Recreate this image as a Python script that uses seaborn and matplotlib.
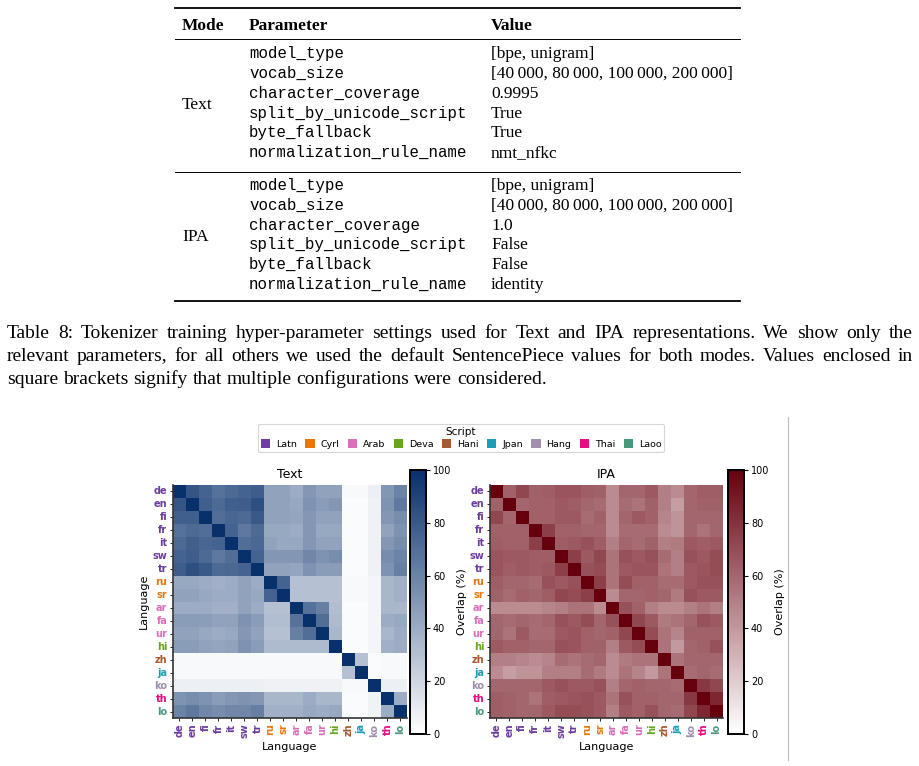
import numpy as np
import pandas as pd
import matplotlib
matplotlib.use("Agg")
import matplotlib.pyplot as plt
import seaborn as sns
from matplotlib.colors import LinearSegmentedColormap
from matplotlib.patches import Patch
from matplotlib.lines import Line2D

# ---------------- data ----------------
table_params = ["model_type", "vocab_size", "character_coverage",
                "split_by_unicode_script", "byte_fallback", "normalization_rule_name"]
text_values = ["[bpe, unigram]", "[40\u2009000, 80\u2009000, 100\u2009000, 200\u2009000]",
               "0.9995", "True", "True", "nmt_nfkc"]
ipa_values = ["[bpe, unigram]", "[40\u2009000, 80\u2009000, 100\u2009000, 200\u2009000]",
              "1.0", "False", "False", "identity"]
caption_lines = [
    "Table 8:  Tokenizer training hyper-parameter settings used for Text and IPA representations.  We show only the",
    "relevant parameters, for all others we used the default SentencePiece values for both modes.  Values enclosed in",
    "square brackets signify that multiple configurations were considered.",
]

languages = ["de", "en", "fi", "fr", "it", "sw", "tr", "ru", "sr", "ar",
             "fa", "ur", "hi", "zh", "ja", "ko", "th", "lo"]
lang_script = ["Latn", "Latn", "Latn", "Latn", "Latn", "Latn", "Latn", "Cyrl", "Cyrl",
               "Arab", "Arab", "Arab", "Deva", "Hani", "Jpan", "Hang", "Thai", "Laoo"]
scripts = ["Latn", "Cyrl", "Arab", "Deva", "Hani", "Jpan", "Hang", "Thai", "Laoo"]
script_colors = ["#6c3d9e", "#e8770e", "#d670b8", "#66a61e", "#a8582a",
                 "#1b9eb3", "#9e8fae", "#ea0a82", "#47997c"]

text_overlap = [
    [100, 82, 75, 68, 72, 75, 78, 45, 45, 40, 50, 45, 45, 3, 3, 8, 50, 60],
    [82, 100, 77, 72, 77, 78, 85, 45, 45, 42, 52, 48, 50, 2, 2, 7, 52, 65],
    [77, 77, 100, 70, 74, 72, 80, 45, 45, 43, 50, 45, 45, 2, 2, 7, 50, 55],
    [68, 72, 70, 100, 75, 65, 72, 42, 42, 40, 50, 42, 42, 2, 2, 7, 45, 52],
    [72, 77, 74, 75, 100, 70, 73, 45, 42, 42, 50, 45, 45, 2, 2, 7, 50, 55],
    [75, 78, 72, 65, 70, 100, 75, 50, 50, 50, 58, 52, 55, 2, 2, 7, 55, 60],
    [78, 85, 80, 72, 73, 75, 100, 45, 45, 43, 52, 48, 48, 2, 2, 7, 52, 62],
    [42, 42, 40, 38, 40, 45, 40, 100, 75, 30, 30, 30, 30, 3, 3, 5, 35, 38],
    [45, 45, 42, 40, 40, 45, 42, 75, 100, 30, 30, 30, 30, 3, 3, 5, 35, 38],
    [40, 40, 40, 38, 38, 45, 40, 30, 30, 100, 68, 62, 32, 2, 2, 5, 35, 35],
    [48, 48, 47, 45, 45, 52, 48, 32, 32, 68, 100, 70, 33, 2, 2, 5, 40, 42],
    [45, 45, 42, 40, 42, 50, 45, 30, 30, 62, 70, 100, 35, 2, 2, 5, 35, 40],
    [48, 48, 45, 43, 45, 52, 48, 33, 33, 33, 33, 33, 100, 2, 2, 5, 38, 40],
    [3, 3, 3, 3, 3, 3, 3, 3, 3, 3, 3, 3, 3, 100, 30, 2, 3, 3],
    [3, 3, 3, 3, 3, 3, 3, 3, 3, 3, 3, 3, 3, 30, 100, 2, 3, 3],
    [8, 8, 8, 8, 8, 8, 8, 7, 7, 7, 7, 7, 7, 3, 3, 100, 8, 8],
    [52, 55, 52, 48, 50, 52, 50, 35, 35, 35, 40, 35, 35, 2, 2, 6, 100, 40],
    [60, 65, 58, 55, 58, 58, 62, 38, 38, 38, 42, 40, 42, 2, 2, 6, 40, 100],
]

ipa_overlap = [
    [100, 62, 72, 62, 63, 67, 67, 63, 62, 45, 60, 60, 65, 50, 45, 60, 63, 63],
    [62, 100, 60, 62, 62, 65, 63, 60, 58, 45, 58, 55, 62, 50, 38, 60, 62, 62],
    [72, 60, 100, 62, 62, 65, 65, 58, 62, 45, 60, 65, 62, 48, 42, 60, 60, 60],
    [62, 62, 62, 100, 75, 62, 62, 60, 60, 45, 58, 58, 58, 45, 42, 60, 55, 60],
    [63, 62, 62, 75, 100, 63, 65, 68, 63, 50, 60, 58, 62, 50, 52, 65, 63, 65],
    [67, 65, 65, 63, 63, 100, 75, 65, 72, 55, 68, 65, 68, 58, 50, 68, 65, 70],
    [67, 63, 65, 63, 65, 75, 100, 68, 70, 55, 65, 67, 67, 55, 50, 65, 67, 70],
    [63, 60, 60, 58, 68, 65, 68, 100, 75, 55, 70, 62, 62, 58, 58, 65, 68, 68],
    [62, 58, 62, 60, 63, 72, 70, 75, 100, 45, 60, 60, 62, 60, 52, 68, 65, 65],
    [45, 45, 45, 45, 48, 50, 55, 55, 45, 100, 68, 62, 50, 45, 45, 50, 55, 50],
    [60, 58, 60, 58, 60, 68, 65, 70, 60, 68, 100, 72, 65, 52, 55, 60, 68, 65],
    [60, 55, 65, 58, 58, 65, 67, 62, 60, 62, 72, 100, 70, 55, 48, 62, 62, 62],
    [65, 62, 62, 60, 60, 68, 67, 62, 62, 50, 65, 70, 100, 55, 40, 60, 62, 68],
    [50, 50, 48, 45, 48, 58, 55, 58, 60, 45, 52, 55, 55, 100, 55, 60, 60, 60],
    [45, 38, 42, 42, 50, 50, 50, 58, 52, 45, 55, 48, 40, 55, 100, 58, 60, 58],
    [60, 60, 60, 60, 65, 68, 65, 65, 68, 50, 60, 62, 60, 60, 58, 100, 78, 72],
    [63, 62, 60, 55, 63, 65, 67, 68, 65, 55, 68, 62, 62, 60, 60, 78, 100, 85],
    [63, 62, 60, 60, 65, 70, 70, 68, 65, 50, 65, 62, 68, 60, 58, 72, 85, 100],
]

# ---------------- figure ----------------
W, H = 920, 766
fig = plt.figure(figsize=(W / 100, H / 100), dpi=100)


def fx(x):
    return x / W


def fy(y):
    return 1 - y / H


SERIF = ["Liberation Serif", "DejaVu Serif"]
MONO = ["Liberation Mono", "DejaVu Sans Mono"]

# ---- table ----
def hrule(y, lw):
    fig.add_artist(Line2D([fx(175), fx(740)], [fy(y), fy(y)], lw=lw, color="black"))


hrule(7.5, 1.3)
hrule(38.5, 0.7)
hrule(171.5, 0.7)
hrule(301.5, 1.3)

hdr_y = 30
fig.text(fx(182), fy(hdr_y), "Mode", family=SERIF, weight="bold", fontsize=12.5, va="baseline")
fig.text(fx(249), fy(hdr_y), "Parameter", family=SERIF, weight="bold", fontsize=12.5, va="baseline")
fig.text(fx(491), fy(hdr_y), "Value", family=SERIF, weight="bold", fontsize=12.5, va="baseline")

text_rows_y = [58, 78, 98, 118, 137, 157]
ipa_rows_y = [190, 210, 230, 249, 269, 289]
fig.text(fx(182), fy(109), "Text", family=SERIF, fontsize=12.5, va="baseline")
fig.text(fx(182), fy(241), "IPA", family=SERIF, fontsize=12.5, va="baseline")
for yy, p, v in zip(text_rows_y, table_params, text_values):
    fig.text(fx(249), fy(yy), p, family=MONO, fontsize=11.3, va="baseline")
    fig.text(fx(491), fy(yy), v, family=SERIF, fontsize=12.5, va="baseline")
for yy, p, v in zip(ipa_rows_y, table_params, ipa_values):
    fig.text(fx(249), fy(yy), p, family=MONO, fontsize=11.3, va="baseline")
    fig.text(fx(491), fy(yy), v, family=SERIF, fontsize=12.5, va="baseline")

# ---- caption (justified) ----
renderer = fig.canvas.get_renderer()
CAP_FS = 14


def put_line(line, ybase, x0, x1, justify):
    words = line.split()
    texts = [fig.text(0, fy(ybase), w, family=SERIF, fontsize=CAP_FS, va="baseline") for w in words]
    widths = [t.get_window_extent(renderer).width for t in texts]
    if justify:
        gap = (x1 - x0 - sum(widths)) / (len(words) - 1)
    else:
        gap = CAP_FS * 100 / 72 * 0.25
    x = x0
    for t, w in zip(texts, widths):
        t.set_x(fx(x))
        x += w + gap


put_line(caption_lines[0], 338, 7, 913, True)
put_line(caption_lines[1], 361, 7, 913, True)
put_line(caption_lines[2], 384, 7, 913, False)

# ---- separator line on the right ----
fig.add_artist(Line2D([fx(788), fx(788)], [fy(417), fy(760)], lw=0.8, color="#bbbbbb"))

# ---- heatmaps ----
cmap_text = LinearSegmentedColormap.from_list("txt", ["#ffffff", "#08306b"])
cmap_ipa = LinearSegmentedColormap.from_list("ipa", ["#ffffff", "#67000d"])
lang_color = {s: c for s, c in zip(scripts, script_colors)}

ax1 = fig.add_axes([fx(173), fy(718), 234 / W, 233 / H])
cax1 = fig.add_axes([fx(410), fy(734), 16 / W, 264 / H])
ax2 = fig.add_axes([fx(490), fy(718), 233 / W, 233 / H])
cax2 = fig.add_axes([fx(728), fy(734), 16 / W, 264 / H])

df_text = pd.DataFrame(text_overlap, index=languages, columns=languages)
df_ipa = pd.DataFrame(ipa_overlap, index=languages, columns=languages)

for ax, cax, df, cmap, title, ylab in [
    (ax1, cax1, df_text, cmap_text, "Text", "Language"),
    (ax2, cax2, df_ipa, cmap_ipa, "IPA", ""),
]:
    sns.heatmap(df, ax=ax, cbar_ax=cax, cmap=cmap, vmin=0, vmax=100,
                xticklabels=True, yticklabels=True,
                cbar_kws={"label": "Overlap (%)", "ticks": [0, 20, 40, 60, 80, 100]})
    ax.set_title(title, fontsize=9, pad=5)
    ax.set_xlabel("Language", fontsize=8, labelpad=3)
    ax.set_ylabel(ylab, fontsize=8, labelpad=3)
    ax.tick_params(axis="both", length=2, width=0.6, pad=2)
    for lab, s in zip(ax.get_xticklabels(), lang_script):
        lab.set_color(lang_color[s])
        lab.set_fontweight("bold")
        lab.set_fontsize(7)
        lab.set_rotation(90)
    for lab, s in zip(ax.get_yticklabels(), lang_script):
        lab.set_color(lang_color[s])
        lab.set_fontweight("bold")
        lab.set_fontsize(7)
        lab.set_rotation(0)
    for side in ["left", "bottom"]:
        ax.spines[side].set_visible(True)
        ax.spines[side].set_color("#333333")
        ax.spines[side].set_linewidth(1.2)
    cb = ax.collections[0].colorbar
    cb.outline.set_linewidth(1.4)
    cb.outline.set_edgecolor("black")
    cb.ax.tick_params(labelsize=7, length=3, width=0.8, pad=2)
    cb.ax.yaxis.label.set_size(8)

# ---- legend ----
handles = [Patch(facecolor=c, edgecolor="none") for c in script_colors]
leg = fig.legend(handles, scripts, loc="center", bbox_to_anchor=(fx(461), fy(438)),
                 ncol=9, title="Script", fontsize=6.8, title_fontsize=7.5,
                 handlelength=1.0, handleheight=1.0, handletextpad=0.6,
                 columnspacing=0.9, borderpad=0.3, labelspacing=0.2,
                 frameon=True, fancybox=True)
leg.get_frame().set_edgecolor("#cccccc")
leg.get_frame().set_linewidth(0.8)

fig.savefig("out.png", dpi=100)
